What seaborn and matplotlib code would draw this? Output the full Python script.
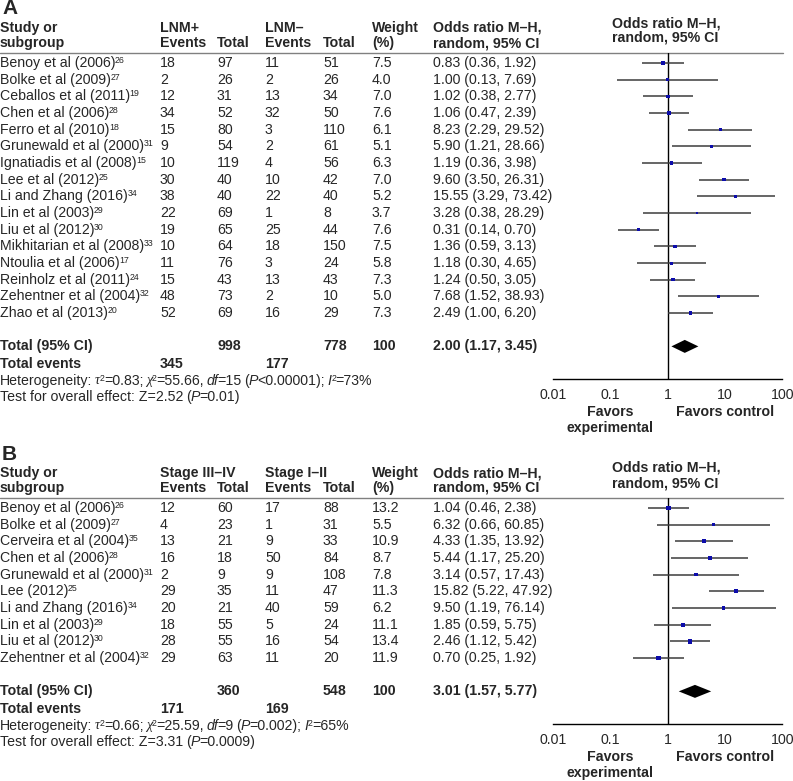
import pandas as pd
import matplotlib
matplotlib.use("Agg")
import matplotlib.pyplot as plt
import seaborn as sns

# panel A: LNM+ vs LNM-
studies_a = ["Benoy et al (2006)", "Bolke et al (2009)", "Ceballos et al (2011)", "Chen et al (2006)",
             "Ferro et al (2010)", "Grunewald et al (2000)", "Ignatiadis et al (2008)", "Lee et al (2012)",
             "Li and Zhang (2016)", "Lin et al (2003)", "Liu et al (2012)", "Mikhitarian et al (2008)",
             "Ntoulia et al (2006)", "Reinholz et al (2011)", "Zehentner et al (2004)", "Zhao et al (2013)"]
refs_a = [26, 27, 19, 28, 18, 31, 15, 25, 34, 29, 30, 33, 17, 24, 32, 20]
events1_a = [18, 2, 12, 34, 15, 9, 10, 30, 38, 22, 19, 10, 11, 15, 48, 52]
total1_a = [97, 26, 31, 52, 80, 54, 119, 40, 40, 69, 65, 64, 76, 43, 73, 69]
events2_a = [11, 2, 13, 32, 3, 2, 4, 10, 22, 1, 25, 18, 3, 13, 2, 16]
total2_a = [51, 26, 34, 50, 110, 61, 56, 42, 40, 8, 44, 150, 24, 43, 10, 29]
weight_a = [7.5, 4.0, 7.0, 7.6, 6.1, 5.1, 6.3, 7.0, 5.2, 3.7, 7.6, 7.5, 5.8, 7.3, 5.0, 7.3]
or_a = [0.83, 1.00, 1.02, 1.06, 8.23, 5.90, 1.19, 9.60, 15.55, 3.28, 0.31, 1.36, 1.18, 1.24, 7.68, 2.49]
lo_a = [0.36, 0.13, 0.38, 0.47, 2.29, 1.21, 0.36, 3.50, 3.29, 0.38, 0.14, 0.59, 0.30, 0.50, 1.52, 1.00]
hi_a = [1.92, 7.69, 2.77, 2.39, 29.52, 28.66, 3.98, 26.31, 73.42, 28.29, 0.70, 3.13, 4.65, 3.05, 38.93, 6.20]
pooled_a = [2.00, 1.17, 3.45]
totals_a = [998, 778, 100]
tot_events_a = [345, 177]
groups_a = ["LNM+", "LNM\u2013"]
# text runs: n = normal, i = italic, g = greek (serif italic), s = superscript, sp = space
het_a = [("Heterogeneity:", "n"), (" ", "sp"), ("\u03c4", "g"), ("2", "s"), ("=0.83;", "n"), (" ", "sp"),
         ("\u03c7", "g"), ("2", "s"), ("=55.66,", "n"), (" ", "sp"), ("df", "i"), ("=15", "n"), (" ", "sp"),
         ("(", "n"), ("P", "i"), ("<0.00001);", "n"), (" ", "sp"), ("I", "i"), ("2", "s"), ("=73%", "n")]
test_a = [("Test for overall effect: Z=2.52", "n"), (" ", "sp"), ("(", "n"), ("P", "i"), ("=0.01)", "n")]

# panel B: stage III-IV vs stage I-II
studies_b = ["Benoy et al (2006)", "Bolke et al (2009)", "Cerveira et al (2004)", "Chen et al (2006)",
             "Grunewald et al (2000)", "Lee (2012)", "Li and Zhang (2016)", "Lin et al (2003)",
             "Liu et al (2012)", "Zehentner et al (2004)"]
refs_b = [26, 27, 35, 28, 31, 25, 34, 29, 30, 32]
events1_b = [12, 4, 13, 16, 2, 29, 20, 18, 28, 29]
total1_b = [60, 23, 21, 18, 9, 35, 21, 55, 55, 63]
events2_b = [17, 1, 9, 50, 9, 11, 40, 5, 16, 11]
total2_b = [88, 31, 33, 84, 108, 47, 59, 24, 54, 20]
weight_b = [13.2, 5.5, 10.9, 8.7, 7.8, 11.3, 6.2, 11.1, 13.4, 11.9]
or_b = [1.04, 6.32, 4.33, 5.44, 3.14, 15.82, 9.50, 1.85, 2.46, 0.70]
lo_b = [0.46, 0.66, 1.35, 1.17, 0.57, 5.22, 1.19, 0.59, 1.12, 0.25]
hi_b = [2.38, 60.85, 13.92, 25.20, 17.43, 47.92, 76.14, 5.75, 5.42, 1.92]
pooled_b = [3.01, 1.57, 5.77]
totals_b = [360, 548, 100]
tot_events_b = [171, 169]
groups_b = ["Stage III\u2013IV", "Stage I\u2013II"]
het_b = [("Heterogeneity:", "n"), (" ", "sp"), ("\u03c4", "g"), ("2", "s"), ("=0.66;", "n"), (" ", "sp"),
         ("\u03c7", "g"), ("2", "s"), ("=25.59,", "n"), (" ", "sp"), ("df", "i"), ("=9", "n"), (" ", "sp"),
         ("(", "n"), ("P", "i"), ("=0.002);", "n"), (" ", "sp"), ("I", "i"), ("2", "s"), ("=65%", "n")]
test_b = [("Test for overall effect: Z=3.31", "n"), (" ", "sp"), ("(", "n"), ("P", "i"), ("=0.0009)", "n")]

tick_vals = [0.01, 0.1, 1, 10, 100]
tick_labels = ["0.01", "0.1", "1", "10", "100"]

W, H = 793, 781
FS = 10.2
SUP = 6.3
DY = 16.67
COLS = [0, 160, 217, 265, 323, 372, 433]


def space_width(tx, renderer):
    a = tx.text(0, 0, "a a", fontsize=FS)
    b = tx.text(0, 0, "aa", fontsize=FS)
    w = a.get_window_extent(renderer).width - b.get_window_extent(renderer).width
    a.remove()
    b.remove()
    return w


def draw_runs(tx, renderer, x, y, runs, sp):
    for s, kind in runs:
        if kind == "sp":
            x += sp * 0.8
            continue
        if kind == "s":
            t = tx.text(x, y - 7, s, fontsize=SUP, va="top")
        elif kind == "g":
            t = tx.text(x, y, s, fontsize=FS, va="center", family="Liberation Serif", style="italic")
        elif kind == "i":
            t = tx.text(x, y, s, fontsize=FS, va="center", style="italic")
        else:
            t = tx.text(x, y, s, fontsize=FS, va="center")
        x = t.get_window_extent(renderer).x1 - 0.5


def draw_panel(fig, tx, renderer, sp, letter, top, studies, refs, ev1, tot1, ev2, tot2, weight, ors, lo, hi,
               pooled, totals, tot_events, groups, het, test):
    # top = y of the header rule (pixels from the top)
    tx.text(2, top - 44, letter, fontsize=15, fontweight="bold", va="center", ha="left")
    hy1, hy2 = top - 25, top - 10
    tx.text(COLS[0], hy1, "Study or", fontsize=FS, fontweight="bold", va="center")
    tx.text(COLS[0], hy2, "subgroup", fontsize=FS, fontweight="bold", va="center")
    tx.text(COLS[1], hy1, groups[0], fontsize=FS, fontweight="bold", va="center")
    tx.text(COLS[3], hy1, groups[1], fontsize=FS, fontweight="bold", va="center")
    for c, lab in zip(COLS[1:5], ["Events", "Total", "Events", "Total"]):
        tx.text(c, hy2, lab, fontsize=FS, fontweight="bold", va="center")
    tx.text(COLS[5], hy1, "Weight", fontsize=FS, fontweight="bold", va="center")
    tx.text(COLS[5], hy2, "(%)", fontsize=FS, fontweight="bold", va="center")
    tx.text(COLS[6], hy1, "Odds ratio M\u2013H,", fontsize=FS, fontweight="bold", va="center")
    tx.text(COLS[6], hy2, "random, 95% CI", fontsize=FS, fontweight="bold", va="center")
    tx.text(612, hy1 - 5, "Odds ratio M\u2013H,", fontsize=FS, fontweight="bold", va="center")
    tx.text(612, hy2 - 5, "random, 95% CI", fontsize=FS, fontweight="bold", va="center")
    tx.plot([0, 783], [top, top], color="#808080", lw=1)

    y0 = top + 10
    ys = [y0 + i * DY for i in range(len(studies))]
    for i, y in enumerate(ys):
        vals = [ev1[i], tot1[i], ev2[i], tot2[i], f"{weight[i]:.1f}",
                f"{ors[i]:.2f} ({lo[i]:.2f}, {hi[i]:.2f})"]
        draw_runs(tx, renderer, COLS[0], y, [(studies[i], "n"), (str(refs[i]), "s")], sp)
        for c, v in zip(COLS[1:], vals):
            tx.text(c, y, str(v), fontsize=FS, va="center")

    ty = y0 + (len(studies) + 1) * DY
    tx.text(COLS[0], ty, "Total (95% CI)", fontsize=FS, fontweight="bold", va="center")
    tx.text(COLS[2], ty, str(totals[0]), fontsize=FS, fontweight="bold", va="center")
    tx.text(COLS[4], ty, str(totals[1]), fontsize=FS, fontweight="bold", va="center")
    tx.text(COLS[5], ty, str(totals[2]), fontsize=FS, fontweight="bold", va="center")
    tx.text(COLS[6], ty, f"{pooled[0]:.2f} ({pooled[1]:.2f}, {pooled[2]:.2f})",
            fontsize=FS, fontweight="bold", va="center")
    tx.text(COLS[0], ty + 18, "Total events", fontsize=FS, fontweight="bold", va="center")
    tx.text(COLS[1], ty + 18, str(tot_events[0]), fontsize=FS, fontweight="bold", va="center")
    tx.text(COLS[3], ty + 18, str(tot_events[1]), fontsize=FS, fontweight="bold", va="center")
    draw_runs(tx, renderer, COLS[0], ty + 34.5, het, sp)
    draw_runs(tx, renderer, COLS[0], ty + 51, test, sp)

    # forest plot axes, y in the same pixel units as the text
    axis_y = ty + 33
    x_left, x_right = 552.7, 782.3
    ax = fig.add_axes([x_left / W, 1 - axis_y / H, (x_right - x_left) / W, (axis_y - top) / H])
    ax.set_xscale("log")
    ax.set_xlim(0.01, 100)
    ax.set_ylim(axis_y, top)
    df = pd.DataFrame({"or": ors, "lo": lo, "hi": hi, "weight": weight, "y": ys})
    ax.hlines(df["y"], df["lo"], df["hi"], color="#3c3c3c", lw=1.1, zorder=2)
    sns.scatterplot(data=df, x="or", y="y", size="weight", sizes=(0, 16), size_norm=(0, 20),
                    marker="s", color="#0c0caa", edgecolor="none", legend=False, ax=ax, zorder=3)
    ax.fill([pooled[1], pooled[0], pooled[2], pooled[0]], [ty, ty - 6.5, ty, ty + 6.5],
            color="black", lw=0, zorder=3)
    ax.axvline(1, color="black", lw=1, zorder=1)
    for s in ["top", "left", "right"]:
        ax.spines[s].set_visible(False)
    ax.spines["bottom"].set_linewidth(1)
    ax.spines["bottom"].set_color("black")
    ax.set_xticks(tick_vals)
    ax.set_xticklabels(tick_labels)
    ax.xaxis.set_minor_locator(matplotlib.ticker.NullLocator())
    ax.tick_params(axis="x", direction="inout", length=8, width=1, labelsize=FS, pad=2)
    ax.set_yticks([])
    ax.set_xlabel("")
    ax.set_ylabel("")
    ax.patch.set_visible(False)
    tx.text(610, axis_y + 33, "Favors", fontsize=FS, fontweight="bold", ha="center", va="center")
    tx.text(610, axis_y + 49, "experimental", fontsize=FS, fontweight="bold", ha="center", va="center")
    tx.text(725, axis_y + 33, "Favors control", fontsize=FS, fontweight="bold", ha="center", va="center")


def main():
    sns.set_style("white")
    plt.rcParams["font.family"] = ["Liberation Sans", "DejaVu Sans"]

    fig = plt.figure(figsize=(W / 100, H / 100), dpi=100)
    tx = fig.add_axes([0, 0, 1, 1])
    tx.set_xlim(0, W)
    tx.set_ylim(H, 0)
    tx.axis("off")
    renderer = fig.canvas.get_renderer()
    sp = space_width(tx, renderer)

    draw_panel(fig, tx, renderer, sp, "A", 53, studies_a, refs_a, events1_a, total1_a, events2_a, total2_a,
               weight_a, or_a, lo_a, hi_a, pooled_a, totals_a, tot_events_a, groups_a, het_a, test_a)
    draw_panel(fig, tx, renderer, sp, "B", 498, studies_b, refs_b, events1_b, total1_b, events2_b, total2_b,
               weight_b, or_b, lo_b, hi_b, pooled_b, totals_b, tot_events_b, groups_b, het_b, test_b)

    fig.savefig("out.png", dpi=100, facecolor="white")


if __name__ == "__main__":
    main()
